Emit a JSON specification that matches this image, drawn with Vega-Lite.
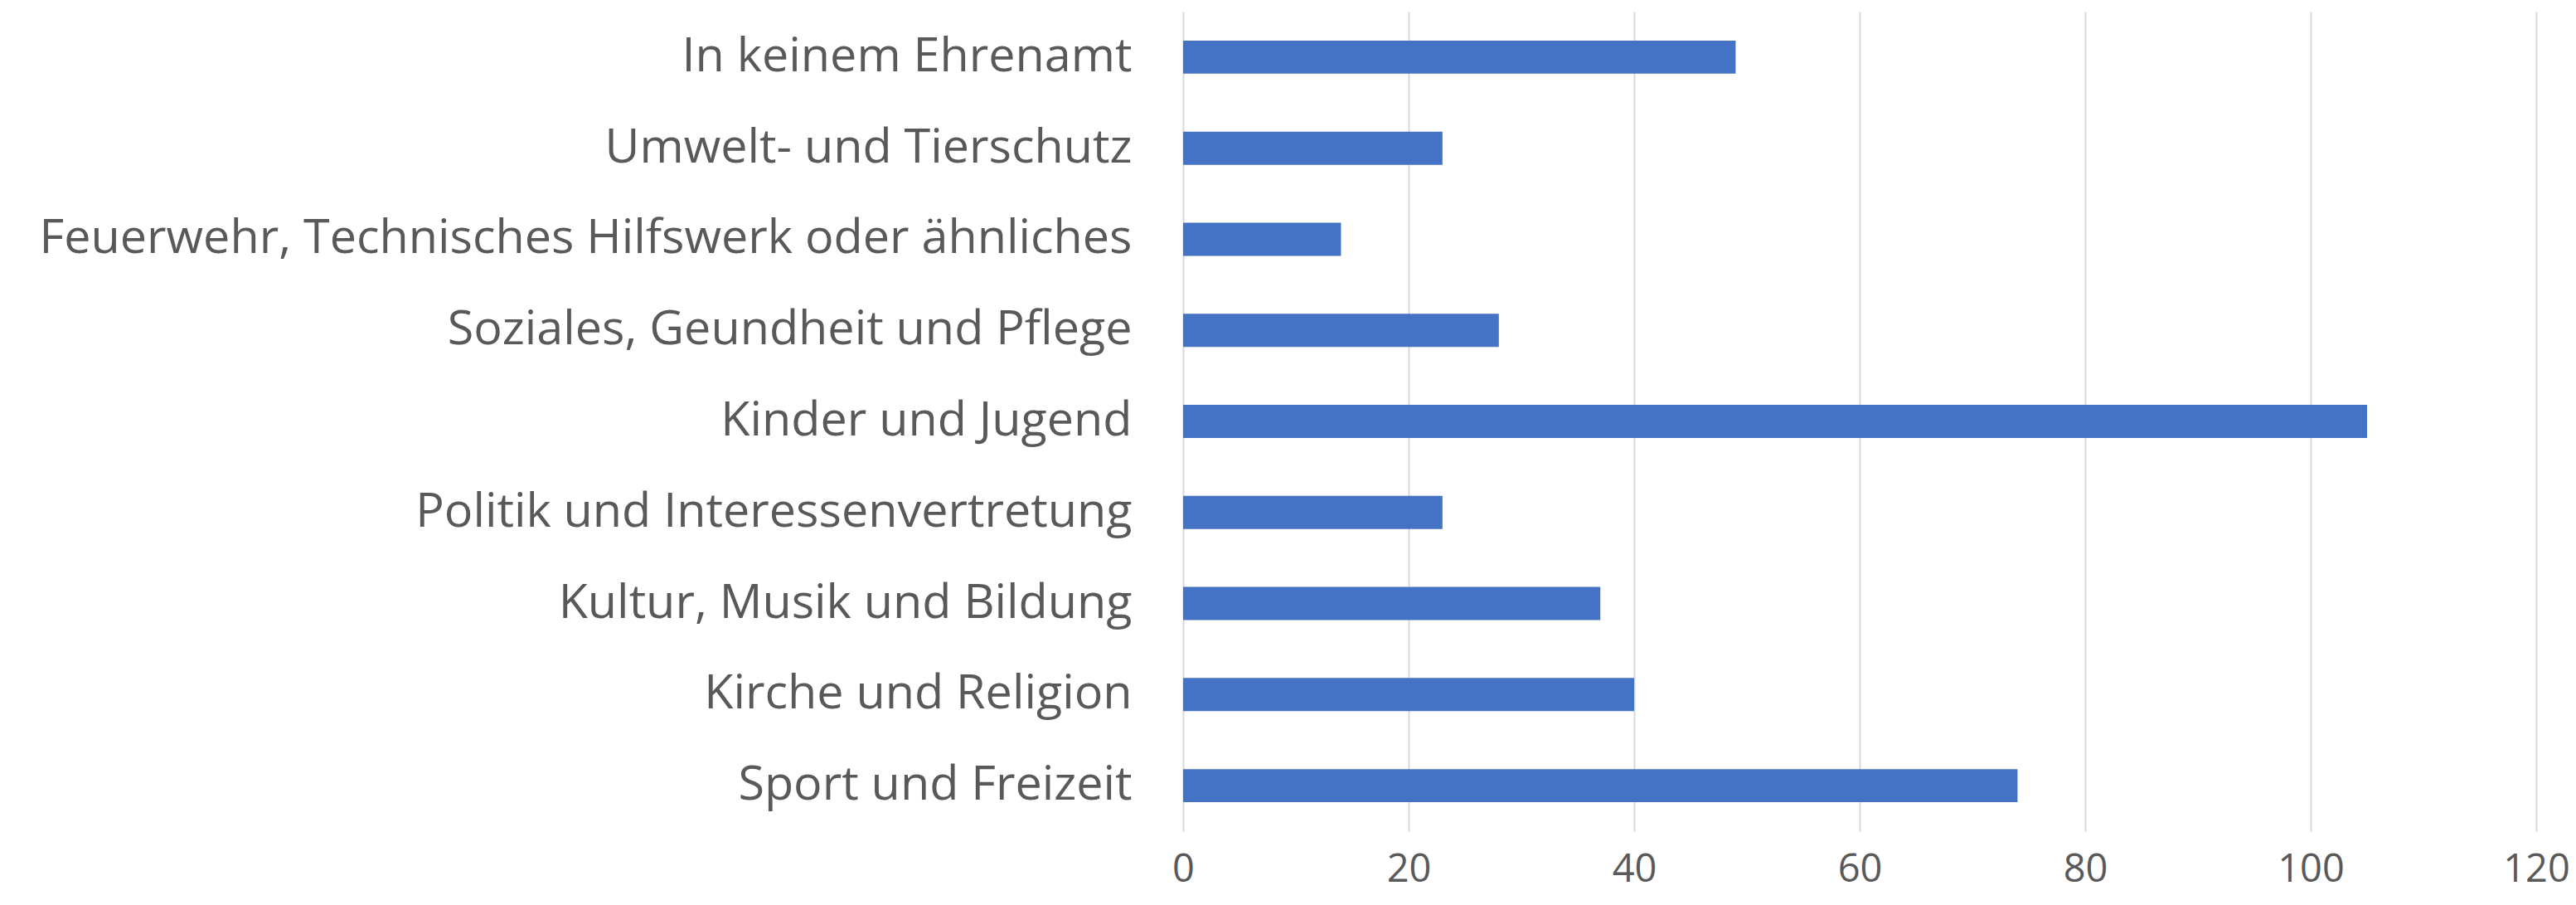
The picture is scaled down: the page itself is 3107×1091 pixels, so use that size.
{
  "$schema": "https://vega.github.io/schema/vega-lite/v6.json",
  "autosize": {"type": "none"},
  "padding": {"left": 1427, "top": 14, "right": 48, "bottom": 89},
  "width": 1632,
  "height": 988,
  "background": "white",
  "data": {
    "values": [
      {"kategorie": "In keinem Ehrenamt", "anzahl": 49},
      {"kategorie": "Umwelt- und Tierschutz", "anzahl": 23},
      {"kategorie": "Feuerwehr, Technisches Hilfswerk oder ähnliches", "anzahl": 14},
      {"kategorie": "Soziales, Geundheit und Pflege", "anzahl": 28},
      {"kategorie": "Kinder und Jugend", "anzahl": 105},
      {"kategorie": "Politik und Interessenvertretung", "anzahl": 23},
      {"kategorie": "Kultur, Musik und Bildung", "anzahl": 37},
      {"kategorie": "Kirche und Religion", "anzahl": 40},
      {"kategorie": "Sport und Freizeit", "anzahl": 74}
    ]
  },
  "mark": {"type": "bar", "color": "#4472c4"},
  "encoding": {
    "y": {
      "field": "kategorie",
      "type": "nominal",
      "sort": null,
      "scale": {"paddingInner": 0.636, "paddingOuter": 0.318},
      "axis": {
        "title": null,
        "domain": false,
        "ticks": false,
        "grid": false,
        "labelFont": "Open Sans",
        "labelFontSize": 57.5,
        "labelColor": "#595959",
        "labelPadding": 62,
        "labelLimit": 1500
      }
    },
    "x": {
      "field": "anzahl",
      "type": "quantitative",
      "scale": {"domain": [0, 120], "nice": false},
      "axis": {
        "title": null,
        "values": [0, 20, 40, 60, 80, 100, 120],
        "domain": false,
        "ticks": false,
        "grid": true,
        "gridColor": "#d9d9d9",
        "gridWidth": 2,
        "labelFont": "Open Sans",
        "labelFontSize": 47,
        "labelColor": "#595959",
        "labelPadding": 46,
        "labelBaseline": "middle",
        "labelFlush": false
      }
    }
  },
  "config": {"view": {"stroke": null}}
}
